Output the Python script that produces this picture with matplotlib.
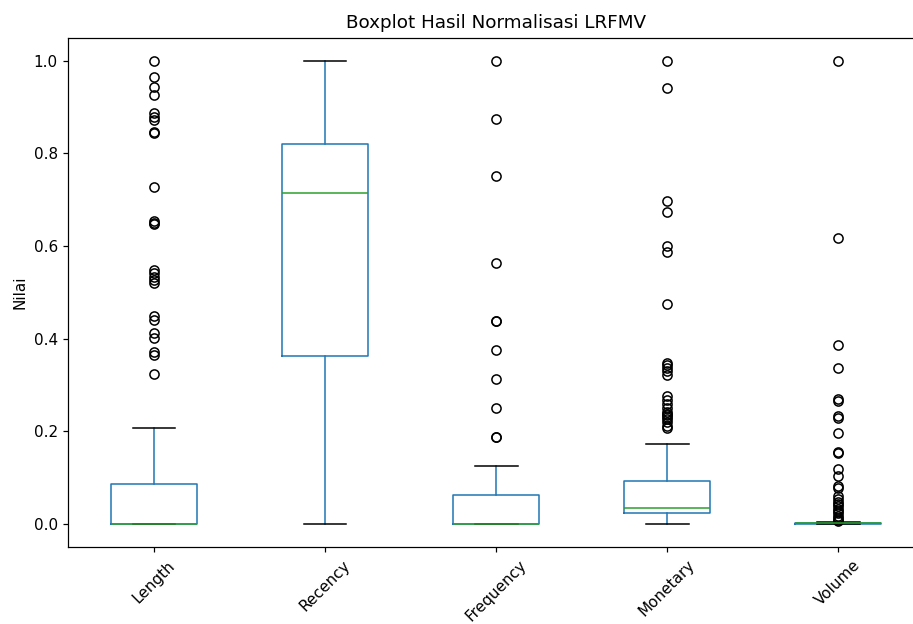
import matplotlib
matplotlib.use("Agg")
import matplotlib.pyplot as plt

categories = ["Length", "Recency", "Frequency", "Monetary", "Volume"]

q1 = [0.0, 0.3626, 0.0, 0.023, 0.0]
median = [0.0, 0.714, 0.0, 0.0352, 0.0008]
q3 = [0.0857, 0.819, 0.0625, 0.0928, 0.002]
whislo = [0.0, 0.0, 0.0, 0.0, 0.0]
whishi = [0.2066, 1.0, 0.125, 0.173, 0.003]

fliers_length = [1.0, 0.964, 0.943, 0.926, 0.886, 0.879, 0.872, 0.847, 0.843,
                 0.728, 0.654, 0.650, 0.648, 0.548, 0.541, 0.534, 0.527, 0.521,
                 0.449, 0.440, 0.412, 0.401, 0.370, 0.365, 0.324]
fliers_recency = []
fliers_frequency = [1.0, 0.875, 0.75, 0.5625, 0.4375, 0.4375, 0.375, 0.3125,
                    0.25, 0.1875, 0.1875]
fliers_monetary = [1.0, 0.940, 0.697, 0.674, 0.600, 0.587, 0.474, 0.348, 0.343,
                   0.337, 0.330, 0.322, 0.277, 0.268, 0.258, 0.250, 0.242,
                   0.238, 0.234, 0.230, 0.226, 0.220, 0.212, 0.206]
fliers_volume = [1.0, 0.617, 0.386, 0.336, 0.269, 0.265, 0.232, 0.228, 0.197,
                 0.155, 0.153, 0.118, 0.104, 0.081, 0.077, 0.060, 0.054, 0.048,
                 0.043, 0.038, 0.033, 0.028, 0.023, 0.018, 0.013, 0.009, 0.006]
fliers = [fliers_length, fliers_recency, fliers_frequency, fliers_monetary, fliers_volume]

stats = []
for i, name in enumerate(categories):
    stats.append(dict(label=name, q1=q1[i], med=median[i], q3=q3[i],
                      whislo=whislo[i], whishi=whishi[i], fliers=fliers[i]))

DPI = 110
fig = plt.figure(figsize=(913 / DPI, 624 / DPI), dpi=DPI)
ax = fig.add_axes([0.0750, 0.1234, 0.9368, 0.8165])

ax.bxp(stats, showfliers=True,
       boxprops=dict(color="#1f77b4"),
       whiskerprops=dict(color="#1f77b4"),
       medianprops=dict(color="#2ca02c"),
       capprops=dict(color="k"),
       flierprops=dict(marker="o", markerfacecolor="none",
                       markeredgecolor="black", markersize=6))

ax.set_xlim(0.5, 5.5)
ax.set_ylim(-0.05, 1.05)
ax.set_yticks([0.0, 0.2, 0.4, 0.6, 0.8, 1.0])
ax.set_xticks(range(1, len(categories) + 1))
ax.set_xticklabels(categories, rotation=45, ha="center")
ax.set_ylabel("Nilai")
ax.set_title("Boxplot Hasil Normalisasi LRFMV", fontsize=12)
ax.spines["right"].set_visible(False)

fig.savefig("out.png", dpi=DPI)
